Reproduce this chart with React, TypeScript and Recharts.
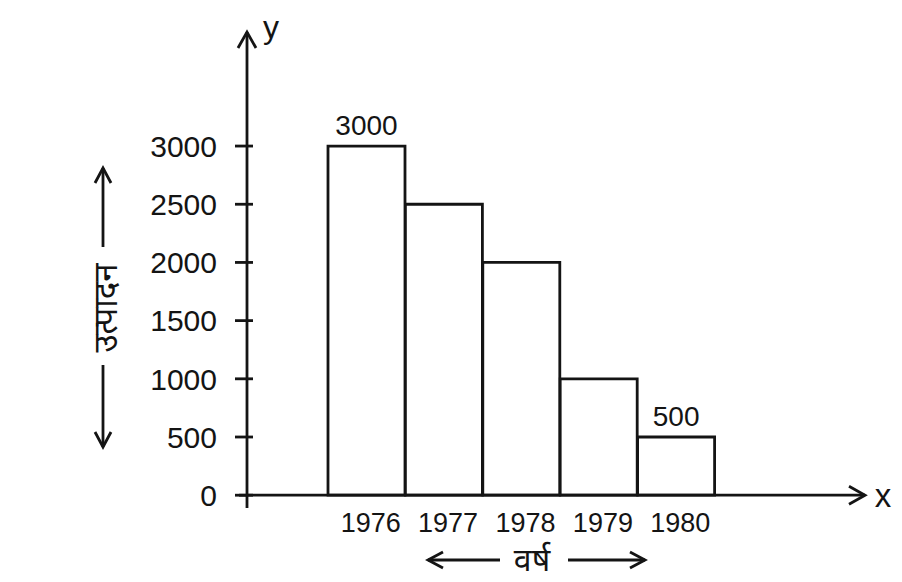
import React from "react";
import { Bar, BarChart, LabelList, ReferenceLine, XAxis, YAxis } from "recharts";

const years = ["1976", "1977", "1978", "1979", "1980"];
const production = [3000, 2500, 2000, 1000, 500];
const barLabels = ["3000", "", "", "", "500"];
const yTicks = [0, 500, 1000, 1500, 2000, 2500, 3000];

const data = years.map((year, i) => ({
  year,
  value: production[i],
  label: barLabels[i]
}));

const INK = "#141414";
const FONT = "'Liberation Sans', Arial, sans-serif";
const HINDI = "'Noto Sans', 'Noto Sans Devanagari', 'Lohit Devanagari', sans-serif";
const SW = 2.8;

function YTick(props: any) {
  const { x, y, payload } = props;
  return (
    <g>
      <line x1={x + 18} x2={x + 36} y1={y} y2={y} stroke={INK} strokeWidth={SW} />
      <text x={x} y={y} dy="0.36em" textAnchor="end" fontSize={30} fontFamily={FONT} fill={INK}>
        {payload.value}
      </text>
    </g>
  );
}

function XTick(props: any) {
  const { x, y, payload } = props;
  return (
    <text x={x + 4} y={y + 24} textAnchor="middle" fontSize={27} fontFamily={FONT} fill={INK}>
      {payload.value}
    </text>
  );
}

function YAxisDecor(props: any) {
  const { viewBox } = props;
  const ax = viewBox.x + viewBox.width;
  const top = viewBox.y;
  const lx = 103;
  return (
    <g>
      <polyline
        points={`${ax - 9},${top + 16} ${ax},${top} ${ax + 9},${top + 16}`}
        fill="none"
        stroke={INK}
        strokeWidth={SW}
      />
      <text x={ax + 24} y={top + 6} textAnchor="middle" fontSize={32} fontFamily={FONT} fill={INK}>
        y
      </text>
      <line x1={lx} x2={lx} y1={168} y2={247} stroke={INK} strokeWidth={SW} />
      <polyline points={`${lx - 8},${183} ${lx},${168} ${lx + 8},${183}`} fill="none" stroke={INK} strokeWidth={SW} />
      <text
        x={lx + 2}
        y={308}
        transform={`rotate(-90 ${lx + 2} 308)`}
        textAnchor="middle"
        dy="0.35em"
        fontSize={33}
        fontFamily={HINDI}
        fill={INK}
      >
        उत्पादन
      </text>
      <line x1={lx} x2={lx} y1={365} y2={447} stroke={INK} strokeWidth={SW} />
      <polyline points={`${lx - 8},${432} ${lx},${447} ${lx + 8},${432}`} fill="none" stroke={INK} strokeWidth={SW} />
    </g>
  );
}

function XAxisArrow(props: any) {
  const { viewBox } = props;
  const x0 = viewBox.x;
  const x1 = viewBox.x + viewBox.width;
  const y = viewBox.y;
  return (
    <g>
      <line x1={x0 - 8} x2={x0} y1={y} y2={y} stroke={INK} strokeWidth={SW} />
      <polyline points={`${x1 - 16},${y - 9} ${x1},${y} ${x1 - 16},${y + 9}`} fill="none" stroke={INK} strokeWidth={SW} />
      <text x={x1 + 18} y={y} dy="0.35em" textAnchor="middle" fontSize={33} fontFamily={FONT} fill={INK}>
        x
      </text>
    </g>
  );
}

function XAxisTitle(props: any) {
  const { viewBox } = props;
  const cx = viewBox.x + 285;
  const y = viewBox.y + 52;
  return (
    <g>
      <line x1={cx - 104} x2={cx - 32} y1={y} y2={y} stroke={INK} strokeWidth={SW} />
      <polyline points={`${cx - 89},${y - 8} ${cx - 104},${y} ${cx - 89},${y + 8}`} fill="none" stroke={INK} strokeWidth={SW} />
      <text x={cx} y={y + 11} textAnchor="middle" fontSize={32} fontFamily={HINDI} fill={INK}>
        वर्ष
      </text>
      <line x1={cx + 36} x2={cx + 113} y1={y} y2={y} stroke={INK} strokeWidth={SW} />
      <polyline points={`${cx + 98},${y - 8} ${cx + 113},${y} ${cx + 98},${y + 8}`} fill="none" stroke={INK} strokeWidth={SW} />
    </g>
  );
}

function TopLabel(props: any) {
  const { x, y, width, value } = props;
  if (!value) return null;
  return (
    <text x={x + width / 2} y={y - 21} dy="0.36em" textAnchor="middle" fontSize={28} fontFamily={FONT} fill={INK}>
      {value}
    </text>
  );
}

export default function App() {
  return (
    <div style={{ position: "absolute", left: 0, top: 0, background: "#fff" }}>
      <BarChart
        width={902}
        height={582}
        data={data}
        barCategoryGap={0}
        margin={{ top: 32, right: 37, bottom: 44, left: 0 }}
      >
        <XAxis
          dataKey="year"
          axisLine={false}
          tickLine={false}
          tickSize={0}
          tickMargin={0}
          height={30}
          padding={{ left: 81, right: 150 }}
          tick={<XTick />}
          interval={0}
          label={<XAxisTitle />}
        />
        <YAxis
          type="number"
          domain={[-110, 3980]}
          ticks={yTicks}
          width={247}
          tickSize={12}
          tickMargin={18}
          tickLine={false}
          axisLine={{ stroke: INK, strokeWidth: SW }}
          tick={<YTick />}
          label={<YAxisDecor />}
          allowDataOverflow
        />
        <ReferenceLine y={0} stroke={INK} strokeWidth={SW} label={<XAxisArrow />} />
        <Bar dataKey="value" fill="#fff" stroke={INK} strokeWidth={SW} isAnimationActive={false}>
          <LabelList dataKey="label" content={<TopLabel />} />
        </Bar>
      </BarChart>
    </div>
  );
}
